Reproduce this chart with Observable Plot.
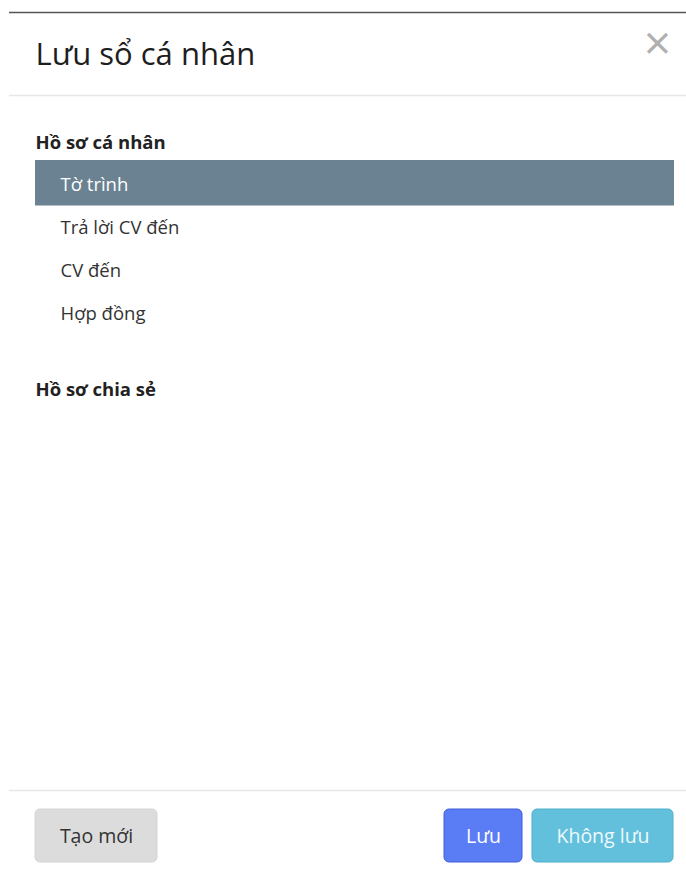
<!DOCTYPE html>
<html><head><meta charset="utf-8">
<script src="https://cdn.jsdelivr.net/npm/d3@7"></script>
<script src="https://cdn.jsdelivr.net/npm/@observablehq/plot@0.6"></script>
<style>
html,body{margin:0;padding:0;background:#fff;}
svg{display:block;font-family:"Open Sans",sans-serif;}
</style></head><body>
<div id="chart"></div>
<script>
const title = "Lưu sổ cá nhân";
const closeGlyph = "×";
const headings = ["Hồ sơ cá nhân", "Hồ sơ chia sẻ"];
const items = ["Tờ trình", "Trả lời CV đến", "CV đến", "Hợp đồng"];
const selectedItem = "Tờ trình";
const buttons = ["Tạo mới", "Lưu", "Không lưu"];

const W = 686, H = 869;
// layout
const rowY = i => 185 + i * 43;
const itemRows = items.map((name, i) => ({name, y: rowY(i), sel: name === selectedItem}));
const headRows = headings.map((name, i) => ({name, y: i === 0 ? 142.5 : 390}));
const btnBoxes = [
  {name: buttons[0], x1: 35, x2: 157, fill: "#dcdcdc", stroke: "#d4d4d4", color: "#333", weight: 400},
  {name: buttons[1], x1: 444, x2: 522, fill: "#5a7cf5", stroke: "#3f5fd6", color: "#fff", weight: 600},
  {name: buttons[2], x1: 532, x2: 673, fill: "#62c0dc", stroke: "#4fb0cc", color: "#eef9fc", weight: 600}
].map(d => ({...d, y1: 809, y2: 862, cx: (d.x1 + d.x2) / 2, cy: 836}));

const chart = Plot.plot({
  width: W, height: H,
  margin: 0,
  x: {domain: [0, W], range: [0, W], axis: null},
  y: {domain: [0, H], range: [0, H], axis: null},
  marks: [
    Plot.ruleY([12], {x1: 9, x2: W, stroke: "#555", strokeWidth: 1.5}),
    Plot.text([title], {x: 35, y: 55, text: d => d, textAnchor: "start", fontSize: 31, fill: "#1e1e1e", fontWeight: 400}),
    Plot.text([closeGlyph], {x: 657, y: 44, text: d => d, fontSize: 48, fill: "#b0b0b0", fontWeight: 400}),
    Plot.ruleY([95], {x1: 9, x2: W, stroke: "#e6e6e6", strokeWidth: 1.5}),
    Plot.text(headRows, {x: 35, y: "y", text: "name", textAnchor: "start", fontSize: 18.5, fontWeight: "bold", fill: "#222"}),
    Plot.rect(itemRows.filter(d => d.sel), {x1: 35, x2: 674, y1: 160, y2: 205.5, fill: "#6a8292"}),
    Plot.text(itemRows, {x: 60, y: "y", text: "name", textAnchor: "start", fontSize: 18.5, fill: d => d.sel ? "#fff" : "#333", fontWeight: d => d.sel ? 600 : 400}),
    Plot.ruleY([790], {x1: 9, x2: W, stroke: "#e6e6e6", strokeWidth: 1.5}),
    Plot.rect(btnBoxes, {x1: "x1", x2: "x2", y1: "y1", y2: "y2", fill: "fill", stroke: "stroke", rx: 5}),
    Plot.text(btnBoxes, {x: "cx", y: "cy", text: "name", fontSize: 19.5, fill: "color", fontWeight: "weight"})
  ]
});
document.getElementById("chart").appendChild(chart);
</script>
</body></html>
